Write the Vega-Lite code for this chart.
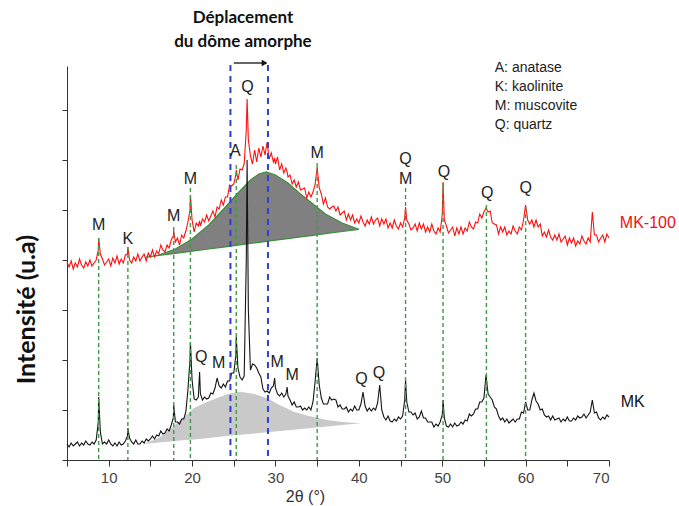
{
  "$schema": "https://vega.github.io/schema/vega-lite/v6.json",
  "width": 542,
  "height": 394,
  "autosize": {"type": "none"},
  "padding": {"left": 67, "top": 66, "right": 70, "bottom": 46},
  "background": "white",
  "config": {
    "view": {"stroke": null},
    "text": {"font": "Liberation Sans"},
    "axisY": {"values": [26,51.6,77.2,102.8,128.4,154,179.6,205.2,230.8,256.4,282,307.6,333.2,358.8,394], "labels": false, "grid": false, "tickSize": 5, "tickColor": "#333", "domainColor": "#333", "titleFont": "Lato", "titleFontSize": 25, "titleFontWeight": "bold", "titleColor": "#111", "titleX": -41, "titleY": 243, "titleAlign": "center", "titleBaseline": "middle", "titleAngle": -90}
  },
  "datasets": {
    "spec": [
      {"x":5,"r":198,"k":16},{"x":5.25,"r":193,"k":13},{"x":5.5,"r":199,"k":17},{"x":5.75,"r":191,"k":14},{"x":6,"r":197,"k":16},{"x":6.25,"r":193,"k":18},{"x":6.5,"r":201,"k":14},{"x":6.75,"r":195,"k":17},{"x":7,"r":192,"k":15},{"x":7.25,"r":198,"k":19},{"x":7.5,"r":194,"k":16},{"x":7.75,"r":200,"k":15},{"x":8,"r":194,"k":18},{"x":8.25,"r":197,"k":16},{"x":8.5,"r":200,"k":20},{"x":8.75,"r":210,"k":38},{"x":8.8,"r":222,"k":63},{"x":9,"r":206,"k":28},{"x":9.25,"r":201,"k":16},{"x":9.5,"r":195,"k":18},{"x":9.75,"r":198,"k":16},{"x":10,"r":201,"k":20},{"x":10.25,"r":194,"k":16},{"x":10.5,"r":202,"k":14},{"x":10.75,"r":197,"k":17},{"x":11,"r":204,"k":14},{"x":11.25,"r":196,"k":18},{"x":11.5,"r":201,"k":15},{"x":11.75,"r":197,"k":16},{"x":12,"r":205,"k":19},{"x":12.25,"r":206,"k":24},{"x":12.3,"r":213,"k":32},{"x":12.5,"r":200,"k":22},{"x":12.75,"r":197,"k":18},{"x":13,"r":203,"k":16},{"x":13.25,"r":199,"k":20},{"x":13.5,"r":206,"k":16},{"x":13.75,"r":199,"k":16},{"x":14,"r":203,"k":19},{"x":14.25,"r":206,"k":17},{"x":14.5,"r":199,"k":21},{"x":14.75,"r":207,"k":19},{"x":15,"r":203,"k":21},{"x":15.25,"r":210,"k":24},{"x":15.5,"r":203,"k":21},{"x":15.75,"r":209,"k":25},{"x":16,"r":206,"k":24},{"x":16.25,"r":215,"k":29},{"x":16.5,"r":210,"k":26},{"x":16.75,"r":208,"k":27},{"x":17,"r":215,"k":31},{"x":17.25,"r":212,"k":29},{"x":17.5,"r":220,"k":35},{"x":17.75,"r":224,"k":42},{"x":17.8,"r":229,"k":55},{"x":18,"r":218,"k":38},{"x":18.25,"r":222,"k":38},{"x":18.5,"r":215,"k":36},{"x":18.75,"r":225,"k":41},{"x":19,"r":222,"k":41},{"x":19.25,"r":229,"k":48},{"x":19.5,"r":238,"k":70},{"x":19.75,"r":250,"k":100},{"x":19.8,"r":265,"k":118},{"x":20,"r":240,"k":80},{"x":20.25,"r":228,"k":61},{"x":20.5,"r":237,"k":60},{"x":20.75,"r":234,"k":63},{"x":20.9,"r":239,"k":88},{"x":21,"r":234,"k":66},{"x":21.25,"r":241,"k":60},{"x":21.5,"r":238,"k":63},{"x":21.75,"r":245,"k":61},{"x":22,"r":239,"k":62},{"x":22.25,"r":244,"k":67},{"x":22.5,"r":249,"k":66},{"x":22.75,"r":243,"k":72},{"x":23,"r":253,"k":82},{"x":23.25,"r":251,"k":74},{"x":23.5,"r":260,"k":72},{"x":23.75,"r":255,"k":76},{"x":24,"r":263,"k":73},{"x":24.25,"r":263,"k":79},{"x":24.5,"r":275,"k":79},{"x":24.75,"r":274,"k":87},{"x":25,"r":276,"k":87},{"x":25.25,"r":285,"k":105},{"x":25.3,"r":290,"k":123},{"x":25.5,"r":280,"k":92},{"x":25.75,"r":291,"k":83},{"x":26,"r":290,"k":80},{"x":26.25,"r":296,"k":84},{"x":26.5,"r":330,"k":200},{"x":26.6,"r":361,"k":300},{"x":26.75,"r":320,"k":150},{"x":27,"r":304,"k":90},{"x":27.25,"r":296,"k":96},{"x":27.5,"r":310,"k":95},{"x":27.75,"r":298,"k":92},{"x":28,"r":312,"k":87},{"x":28.25,"r":303,"k":83},{"x":28.5,"r":314,"k":71},{"x":28.75,"r":305,"k":68},{"x":29,"r":318,"k":69},{"x":29.25,"r":301,"k":67},{"x":29.5,"r":307,"k":72},{"x":29.75,"r":298,"k":74},{"x":29.9,"r":302,"k":82},{"x":30,"r":296,"k":72},{"x":30.25,"r":303,"k":66},{"x":30.5,"r":290,"k":64},{"x":30.75,"r":296,"k":67},{"x":31,"r":287,"k":63},{"x":31.25,"r":292,"k":66},{"x":31.4,"r":288,"k":73},{"x":31.5,"r":283,"k":64},{"x":31.75,"r":285,"k":60},{"x":32,"r":276,"k":55},{"x":32.25,"r":280,"k":58},{"x":32.5,"r":273,"k":53},{"x":32.75,"r":278,"k":53},{"x":33,"r":270,"k":54},{"x":33.25,"r":271,"k":50},{"x":33.5,"r":272,"k":52},{"x":33.75,"r":262,"k":50},{"x":34,"r":268,"k":53},{"x":34.25,"r":263,"k":50},{"x":34.5,"r":268,"k":58},{"x":34.75,"r":275,"k":78},{"x":35,"r":293,"k":102},{"x":35.25,"r":272,"k":75},{"x":35.5,"r":266,"k":62},{"x":35.75,"r":256,"k":56},{"x":36,"r":262,"k":56},{"x":36.25,"r":253,"k":56},{"x":36.5,"r":251,"k":63},{"x":36.75,"r":253,"k":60},{"x":37,"r":254,"k":61},{"x":37.25,"r":249,"k":60},{"x":37.5,"r":253,"k":53},{"x":37.75,"r":245,"k":55},{"x":38,"r":247,"k":51},{"x":38.25,"r":249,"k":51},{"x":38.5,"r":240,"k":53},{"x":38.75,"r":246,"k":48},{"x":39,"r":240,"k":51},{"x":39.25,"r":245,"k":49},{"x":39.5,"r":237,"k":54},{"x":39.75,"r":241,"k":50},{"x":40,"r":237,"k":50},{"x":40.25,"r":244,"k":56},{"x":40.5,"r":238,"k":68},{"x":40.75,"r":234,"k":54},{"x":41,"r":240,"k":49},{"x":41.25,"r":236,"k":52},{"x":41.5,"r":243,"k":49},{"x":41.75,"r":236,"k":52},{"x":42,"r":240,"k":50},{"x":42.25,"r":242,"k":57},{"x":42.5,"r":234,"k":75},{"x":42.75,"r":241,"k":50},{"x":43,"r":236,"k":43},{"x":43.25,"r":241,"k":40},{"x":43.5,"r":232,"k":44},{"x":43.75,"r":237,"k":39},{"x":44,"r":232,"k":38},{"x":44.25,"r":240,"k":41},{"x":44.5,"r":234,"k":39},{"x":44.75,"r":231,"k":43},{"x":45,"r":237,"k":41},{"x":45.25,"r":233,"k":44},{"x":45.5,"r":242,"k":60},{"x":45.6,"r":253,"k":80},{"x":45.75,"r":240,"k":58},{"x":46,"r":236,"k":48},{"x":46.25,"r":230,"k":48},{"x":46.5,"r":232,"k":45},{"x":46.75,"r":236,"k":47},{"x":47,"r":229,"k":41},{"x":47.25,"r":237,"k":43},{"x":47.5,"r":231,"k":49},{"x":47.75,"r":236,"k":42},{"x":48,"r":228,"k":42},{"x":48.25,"r":233,"k":38},{"x":48.5,"r":228,"k":38},{"x":48.75,"r":236,"k":38},{"x":49,"r":229,"k":33},{"x":49.25,"r":226,"k":36},{"x":49.5,"r":232,"k":34},{"x":49.75,"r":228,"k":38},{"x":50,"r":245,"k":45},{"x":50.1,"r":278,"k":60},{"x":50.25,"r":240,"k":42},{"x":50.5,"r":234,"k":34},{"x":50.75,"r":227,"k":33},{"x":51,"r":230,"k":36},{"x":51.25,"r":233,"k":33},{"x":51.5,"r":224,"k":37},{"x":51.75,"r":232,"k":34},{"x":52,"r":226,"k":35},{"x":52.25,"r":233,"k":38},{"x":52.5,"r":226,"k":36},{"x":52.75,"r":232,"k":40},{"x":53,"r":229,"k":39},{"x":53.25,"r":238,"k":46},{"x":53.5,"r":233,"k":44},{"x":53.75,"r":231,"k":46},{"x":54,"r":238,"k":51},{"x":54.25,"r":237,"k":51},{"x":54.5,"r":246,"k":58},{"x":54.75,"r":242,"k":58},{"x":55,"r":248,"k":62},{"x":55.25,"r":252,"k":85},{"x":55.5,"r":248,"k":66},{"x":55.75,"r":249,"k":63},{"x":56,"r":237,"k":60},{"x":56.25,"r":236,"k":53},{"x":56.5,"r":235,"k":51},{"x":56.75,"r":226,"k":44},{"x":57,"r":233,"k":40},{"x":57.25,"r":228,"k":42},{"x":57.5,"r":233,"k":38},{"x":57.75,"r":225,"k":41},{"x":58,"r":229,"k":37},{"x":58.25,"r":226,"k":39},{"x":58.5,"r":234,"k":41},{"x":58.75,"r":229,"k":38},{"x":59,"r":226,"k":41},{"x":59.25,"r":233,"k":41},{"x":59.5,"r":230,"k":48},{"x":59.75,"r":240,"k":47},{"x":60,"r":255,"k":58},{"x":60.25,"r":240,"k":50},{"x":60.5,"r":236,"k":50},{"x":60.75,"r":240,"k":60},{"x":61,"r":233,"k":67},{"x":61.25,"r":240,"k":59},{"x":61.5,"r":233,"k":56},{"x":61.75,"r":236,"k":50},{"x":62,"r":224,"k":51},{"x":62.25,"r":228,"k":45},{"x":62.5,"r":223,"k":43},{"x":62.75,"r":230,"k":44},{"x":63,"r":223,"k":40},{"x":63.25,"r":220,"k":44},{"x":63.5,"r":225,"k":40},{"x":63.75,"r":220,"k":41},{"x":64,"r":226,"k":42},{"x":64.25,"r":218,"k":38},{"x":64.5,"r":221,"k":41},{"x":64.75,"r":224,"k":39},{"x":65,"r":215,"k":43},{"x":65.25,"r":222,"k":39},{"x":65.5,"r":217,"k":39},{"x":65.75,"r":222,"k":42},{"x":66,"r":214,"k":40},{"x":66.25,"r":219,"k":44},{"x":66.5,"r":216,"k":42},{"x":66.75,"r":224,"k":43},{"x":67,"r":219,"k":46},{"x":67.25,"r":216,"k":42},{"x":67.5,"r":222,"k":45},{"x":67.75,"r":218,"k":48},{"x":68,"r":248,"k":60},{"x":68.25,"r":225,"k":47},{"x":68.5,"r":225,"k":48},{"x":68.75,"r":218,"k":42},{"x":69,"r":222,"k":40},{"x":69.25,"r":225,"k":43},{"x":69.5,"r":218,"k":41},{"x":69.75,"r":226,"k":45},{"x":70,"r":222,"k":43}
    ],
    "domeRed": [
      {"x":14.4,"top":202.7,"base":202.7},{"x":16,"top":205,"base":204.5},{"x":18,"top":211,"base":206.6},{"x":20,"top":221,"base":208.8},{"x":22,"top":235,"base":211},{"x":24,"top":253,"base":213.2},{"x":25.5,"top":267,"base":214.8},{"x":27,"top":280,"base":216.5},{"x":28,"top":286,"base":217.6},{"x":28.9,"top":288,"base":218.6},{"x":30,"top":285,"base":219.8},{"x":31.5,"top":277,"base":221.4},{"x":33,"top":266,"base":223.1},{"x":34.5,"top":256,"base":224.7},{"x":36,"top":246,"base":226.4},{"x":38,"top":237,"base":228.5},{"x":40,"top":230.7,"base":230.7}
    ],
    "domeBlack": [
      {"x":14.2,"top":16,"base":16},{"x":16,"top":22,"base":17.4},{"x":17.4,"top":31,"base":18.5},{"x":18.5,"top":39,"base":19.4},{"x":20.2,"top":51.7,"base":20.6},{"x":21.5,"top":57,"base":21.6},{"x":23,"top":62,"base":23},{"x":24.5,"top":66.5,"base":24.2},{"x":25.8,"top":68.3,"base":25.2},{"x":27.5,"top":66,"base":26.5},{"x":29,"top":61.7,"base":27.7},{"x":30.5,"top":55,"base":28.9},{"x":32.2,"top":48.3,"base":30.3},{"x":34,"top":44,"base":31.7},{"x":36.2,"top":40,"base":33.4},{"x":38,"top":38,"base":34.9},{"x":40.2,"top":36.7,"base":36.7}
    ],
    "green": [
      {"x":8.8,"top":222},{"x":12.3,"top":213},{"x":17.8,"top":233},{"x":19.8,"top":272},{"x":25.3,"top":295},{"x":35,"top":297},{"x":45.6,"top":272},{"x":50.1,"top":277},{"x":55.3,"top":255},{"x":60,"top":253}
    ],
    "blue": [{"x":24.6,"top":395},{"x":29.1,"top":395}],
    "peaks": [
      {"x":8.8,"y":235,"t":"M"},{"x":12.3,"y":221,"t":"K"},{"x":17.8,"y":244,"t":"M"},{"x":19.8,"y":281,"t":"M"},{"x":25.2,"y":309,"t":"A"},{"x":26.65,"y":373,"t":"Q"},{"x":35,"y":307,"t":"M"},{"x":45.6,"y":301,"t":"Q"},{"x":45.6,"y":281,"t":"M"},{"x":50.2,"y":288,"t":"Q"},{"x":55.4,"y":267,"t":"Q"},{"x":60,"y":272,"t":"Q"},
      {"x":21.1,"y":103,"t":"Q"},{"x":23.2,"y":97,"t":"M"},{"x":30.2,"y":98,"t":"M"},{"x":32,"y":85,"t":"M"},{"x":40.3,"y":81,"t":"Q"},{"x":42.4,"y":87,"t":"Q"}
    ],
    "legendText": [
      {"x":56.3,"y":392,"t":"A: anatase"},{"x":56.3,"y":373,"t":"K: kaolinite"},{"x":56.3,"y":354,"t":"M: muscovite"},{"x":56.3,"y":335,"t":"Q: quartz"}
    ]
  },
  "encoding": {
    "x": {"field": "x", "type": "quantitative", "scale": {"domain": [5, 70], "nice": false, "zero": false},
      "axis": {"values": [5,10,15,20,25,30,35,40,45,50,55,60,65,70], "labelExpr": "datum.value % 10 === 0 ? datum.label : ''", "grid": false, "tickSize": 6, "tickColor": "#333", "domainColor": "#333", "labelFont": "Liberation Sans", "labelFontSize": 15, "labelColor": "#444", "labelPadding": 4, "title": "2θ (°)", "titleFont": "Liberation Sans", "titleFontSize": 16, "titleFontWeight": "normal", "titleColor": "#333", "titleX": 238, "titleY": 28, "titleAlign": "center", "titleBaseline": "top"}}
  },
  "layer": [
    {
      "data": {"name": "domeBlack"},
      "mark": {"type": "area", "color": "#c9c9c9", "opacity": 1},
      "encoding": {
        "y": {"field": "top", "type": "quantitative", "title": "Intensité (u.a)", "scale": {"domain": [0, 394], "nice": false, "zero": false}},
        "y2": {"field": "base"}
      }
    },
    {
      "data": {"name": "domeRed"},
      "mark": {"type": "area", "color": "#808080", "stroke": "#3b8f3b", "strokeWidth": 1.2},
      "encoding": {"y": {"field": "top", "type": "quantitative", "title": "Intensité (u.a)"}, "y2": {"field": "base"}}
    },
    {
      "data": {"name": "spec"},
      "mark": {"type": "line", "color": "#151515", "strokeWidth": 1.1},
      "encoding": {"y": {"field": "k", "type": "quantitative", "title": "Intensité (u.a)"}}
    },
    {
      "data": {"name": "spec"},
      "mark": {"type": "line", "color": "#ff1010", "strokeWidth": 1.1},
      "encoding": {"y": {"field": "r", "type": "quantitative", "title": "Intensité (u.a)"}}
    },
    {
      "data": {"name": "green"},
      "mark": {"type": "rule", "color": "#3d9a45", "strokeWidth": 1.4, "strokeDash": [4, 3]},
      "encoding": {"y": {"field": "top", "type": "quantitative", "title": "Intensité (u.a)"}, "y2": {"datum": 0}}
    },
    {
      "data": {"name": "blue"},
      "mark": {"type": "rule", "color": "#2f3fd6", "strokeWidth": 2, "strokeDash": [6, 5]},
      "encoding": {"y": {"field": "top", "type": "quantitative", "title": "Intensité (u.a)"}, "y2": {"datum": 0}}
    },
    {
      "data": {"values": [{"x": 25.0, "x2": 28.6, "y": 397}]},
      "mark": {"type": "rule", "color": "#111", "strokeWidth": 1.3},
      "encoding": {"x2": {"field": "x2"}, "y": {"field": "y", "type": "quantitative", "title": "Intensité (u.a)"}}
    },
    {
      "data": {"values": [{"x": 28.7, "y": 397}]},
      "mark": {"type": "point", "shape": "triangle-right", "filled": true, "color": "#111", "size": 45, "opacity": 1},
      "encoding": {"y": {"field": "y", "type": "quantitative", "title": "Intensité (u.a)"}}
    },
    {
      "data": {"name": "peaks"},
      "mark": {"type": "text", "fontSize": 16, "color": "#222", "align": "center", "baseline": "middle"},
      "encoding": {"y": {"field": "y", "type": "quantitative", "title": "Intensité (u.a)"}, "text": {"field": "t"}}
    },
    {
      "data": {"name": "legendText"},
      "mark": {"type": "text", "fontSize": 14, "color": "#222", "align": "left", "baseline": "middle"},
      "encoding": {"y": {"field": "y", "type": "quantitative", "title": "Intensité (u.a)"}, "text": {"field": "t"}}
    },
    {
      "data": {"values": [{"x": 71.3, "y": 237, "t": "MK-100"}]},
      "mark": {"type": "text", "fontSize": 16, "color": "#ee1111", "align": "left", "baseline": "middle"},
      "encoding": {"y": {"field": "y", "type": "quantitative", "title": "Intensité (u.a)"}, "text": {"field": "t"}}
    },
    {
      "data": {"values": [{"x": 71.4, "y": 58, "t": "MK"}]},
      "mark": {"type": "text", "fontSize": 16, "color": "#111", "align": "left", "baseline": "middle"},
      "encoding": {"y": {"field": "y", "type": "quantitative", "title": "Intensité (u.a)"}, "text": {"field": "t"}}
    },
    {
      "data": {"values": [{"x": 26.1, "y": 441.7, "t": "Déplacement"}, {"x": 26.1, "y": 418.3, "t": "du dôme amorphe"}]},
      "mark": {"type": "text", "font": "Lato", "fontWeight": "bold", "fontSize": 17, "color": "#111", "align": "center", "baseline": "middle"},
      "encoding": {"y": {"field": "y", "type": "quantitative", "title": "Intensité (u.a)"}, "text": {"field": "t"}}
    }
  ]
}
